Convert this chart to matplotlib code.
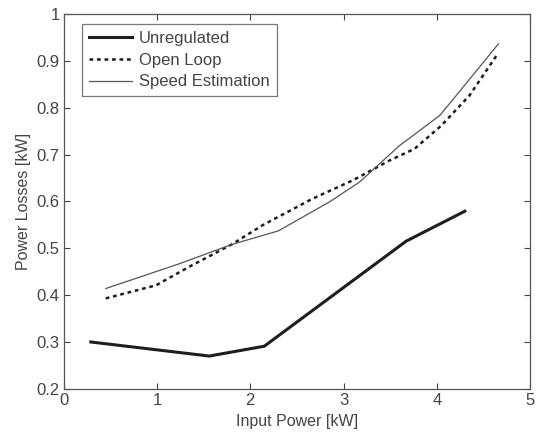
import matplotlib
matplotlib.use("Agg")
import matplotlib.pyplot as plt

plt.rcParams['font.family'] = ['Liberation Sans', 'DejaVu Sans']

unreg_x = [0.29, 1.56, 2.15, 3.67, 4.30]
unreg_y = [0.300, 0.270, 0.291, 0.515, 0.579]

open_x = [0.45, 0.99, 1.34, 1.8, 2.13, 2.67, 3.1, 3.49, 3.76, 4.05, 4.35, 4.64]
open_y = [0.393, 0.421, 0.460, 0.508, 0.549, 0.606, 0.645, 0.687, 0.712, 0.762, 0.826, 0.911]

speed_x = [0.45, 1.24, 1.8, 2.3, 2.85, 3.17, 3.60, 4.03, 4.25, 4.66]
speed_y = [0.414, 0.467, 0.508, 0.537, 0.599, 0.641, 0.719, 0.783, 0.836, 0.936]

fig = plt.figure(figsize=(5.36, 4.34), dpi=100, facecolor='white')
ax = fig.add_axes([0.119, 0.104, 0.870, 0.864])
ax.set_facecolor('white')

txt = '#444444'
ax.plot(unreg_x, unreg_y, color='#1e1e1e', lw=2.2, label='Unregulated')
ax.plot(open_x, open_y, color='#1e1e1e', lw=1.8, ls=(0, (1.5, 1.5)), label='Open Loop')
ax.plot(speed_x, speed_y, color='#555555', lw=0.9, label='Speed Estimation')

ax.set_xlim(0, 5)
ax.set_ylim(0.2, 1.0)
ax.set_xticks([0, 1, 2, 3, 4, 5])
ax.set_xticklabels(['0', '1', '2', '3', '4', '5'])
ax.set_yticks([0.2, 0.3, 0.4, 0.5, 0.6, 0.7, 0.8, 0.9, 1.0])
ax.set_yticklabels(['0.2', '0.3', '0.4', '0.5', '0.6', '0.7', '0.8', '0.9', '1'])
ax.tick_params(direction='in', top=True, right=True, length=4, labelsize=12, colors=txt, pad=3)
for s in ax.spines.values():
    s.set_color('#555555')
    s.set_linewidth(0.9)

ax.set_xlabel('Input Power [kW]', fontsize=11.5, color=txt, labelpad=4)
ax.set_ylabel('Power Losses [kW]', fontsize=11.5, color=txt, labelpad=4)

leg = ax.legend(loc='upper left', bbox_to_anchor=(0.04, 0.972), fontsize=12, frameon=True,
                fancybox=False, edgecolor='#555555', handlelength=2.6, borderpad=0.4,
                labelspacing=0.4, handletextpad=0.4, borderaxespad=0)
leg.get_frame().set_linewidth(0.9)
for t in leg.get_texts():
    t.set_color(txt)

fig.savefig('out.png', dpi=100, facecolor=fig.get_facecolor())
